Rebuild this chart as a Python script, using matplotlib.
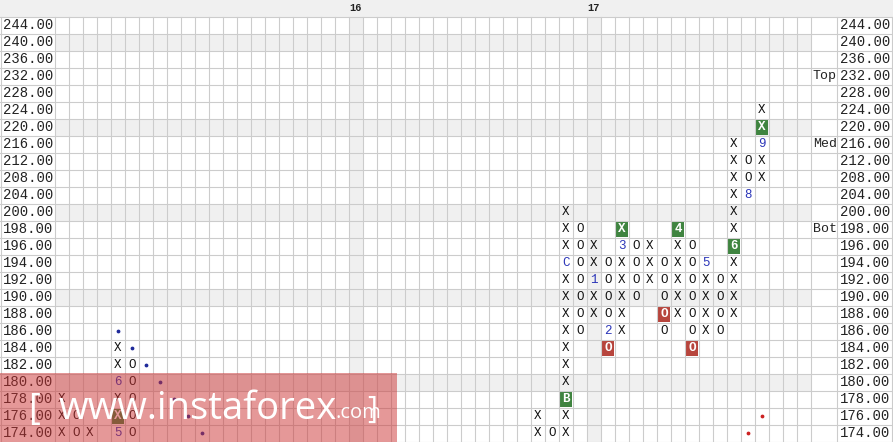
import matplotlib
matplotlib.use('Agg')
import matplotlib.pyplot as plt
from matplotlib.patches import Rectangle

# price rows (top to bottom), box size changes below 200
prices = [244, 240, 236, 232, 228, 224, 220, 216, 212, 208, 204, 200,
          198, 196, 194, 192, 190, 188, 186, 184, 182, 180, 178, 176, 174]
n_cols = 54
week_cols = [21, 38]
week_labels = ['16', '17']

# point & figure columns: (column, X or O, prices in the column)
pf_cols = [
    (0, 'X', [178, 176, 174]),
    (1, 'O', [176, 174]),
    (2, 'X', [174]),
    (4, 'X', [184, 182, 180, 178, 176, 174]),
    (5, 'O', [182, 180, 178, 176, 174]),
    (34, 'X', [176, 174]),
    (35, 'O', [174]),
    (36, 'X', [200, 198, 196, 194, 192, 190, 188, 186, 184, 182, 180, 178, 176, 174]),
    (37, 'O', [198, 196, 194, 192, 190, 188, 186]),
    (38, 'X', [196, 194, 192, 190, 188]),
    (39, 'O', [194, 192, 190, 188, 186, 184]),
    (40, 'X', [198, 196, 194, 192, 190, 188, 186]),
    (41, 'O', [196, 194, 192, 190]),
    (42, 'X', [196, 194, 192]),
    (43, 'O', [194, 192, 190, 188, 186]),
    (44, 'X', [198, 196, 194, 192, 190, 188]),
    (45, 'O', [196, 194, 192, 190, 188, 186, 184]),
    (46, 'X', [194, 192, 190, 188, 186]),
    (47, 'O', [192, 190, 188, 186]),
    (48, 'X', [216, 212, 208, 204, 200, 198, 196, 194, 192, 190, 188]),
    (49, 'O', [212, 208, 204]),
    (50, 'X', [224, 220, 216, 212, 208]),
]

# month markers replacing a box: (column, price, text)
month_marks = [(4, 180, '6'), (4, 174, '5'), (36, 194, 'C'), (38, 192, '1'),
               (39, 186, '2'), (40, 196, '3'), (46, 194, '5'), (49, 204, '8'),
               (50, 216, '9')]
# signal boxes: (column, price, text)
buy_boxes = [(4, 176, 'X'), (36, 178, 'B'), (40, 198, 'X'), (44, 198, '4'),
             (48, 196, '6'), (50, 220, 'X')]
sell_boxes = [(39, 184, 'O'), (43, 188, 'O'), (45, 184, 'O')]

# trend lines
bear_dots_c = [4, 5, 6, 7, 8, 9, 10]
bear_dots_p = [186, 184, 182, 180, 178, 176, 174]
bull_dots_c = [49, 50]
bull_dots_p = [174, 176]

levels = [('Top', 232), ('Med', 216), ('Bot', 198)]

row = {p: i for i, p in enumerate(prices)}
mono = 'Liberation Mono'
grid_c = '#cccccc'
shade_c = '#f0f0f0'

fig = plt.figure(figsize=(8.93, 4.42), dpi=100)
ax = fig.add_axes([0, 0, 1, 1])
x_left = -55 / 14
x_right = 838 / 14
x_lab = (837 - 55) / 14
ax.set_xlim(x_left, x_right)
ax.set_ylim(len(prices) - 0.5, -1.5)
ax.axis('off')

# header band
ax.add_patch(Rectangle((x_left, -1.5), x_right - x_left, 1, color=shade_c, lw=0))
for c, lab in zip(week_cols, week_labels):
    ax.text(c + 0.5, -1.0, lab, ha='center', va='center', fontsize=7.5,
            fontweight='bold', family=mono, color='#222222')

# shaded rows and columns
for p in prices:
    if p % 10 == 0:
        ax.add_patch(Rectangle((0, row[p] - 0.5), n_cols, 1, color=shade_c, lw=0))
for c in week_cols:
    ax.add_patch(Rectangle((c, -0.5), 1, len(prices), color=shade_c, lw=0))

# grid
for i in range(len(prices) + 1):
    ax.plot([x_left, x_right], [i - 0.5, i - 0.5], color=grid_c, lw=0.8)
for c in range(n_cols + 1):
    ax.plot([c, c], [-0.5, len(prices) - 0.5], color=grid_c, lw=0.8)
for xv in [x_lab, x_left + 0.08, x_right - 0.06]:
    ax.plot([xv, xv], [-0.5, len(prices) - 0.5], color=grid_c, lw=0.8)

# price labels on both sides
for p in prices:
    ax.text(-0.15, row[p], '%.2f' % p, ha='right', va='center', fontsize=10,
            family=mono, color='#222222')
    ax.text(x_lab + 0.2, row[p], '%.2f' % p, ha='left', va='center', fontsize=10,
            family=mono, color='#222222')
for lab, p in levels:
    ax.text(n_cols + 0.12, row[p], lab, ha='left', va='center', fontsize=9.5,
            family=mono, color='#222222')

special = {(c, p) for c, p, _ in month_marks + buy_boxes + sell_boxes}

for c, kind, plist in pf_cols:
    for p in plist:
        if (c, p) in special:
            continue
        ax.text(c + 0.5, row[p], kind, ha='center', va='center', fontsize=9,
                family=mono, color='#111111')

for c, p, t in month_marks:
    ax.text(c + 0.5, row[p], t, ha='center', va='center', fontsize=9,
            family=mono, color='#2b35b8')

for boxes, col in [(buy_boxes, '#3f8440'), (sell_boxes, '#b7453d')]:
    for c, p, t in boxes:
        ax.add_patch(Rectangle((c + 0.04, row[p] - 0.46), 0.92, 0.92, color=col, lw=0))
        ax.text(c + 0.5, row[p], t, ha='center', va='center', fontsize=9,
                family=mono, fontweight='bold', color='white')

ax.scatter([c + 0.5 for c in bear_dots_c], [row[p] for p in bear_dots_p],
           s=3, color='#1f2a9a', zorder=5)
ax.scatter([c + 0.5 for c in bull_dots_c], [row[p] for p in bull_dots_p],
           s=3, color='#cc2222', zorder=5)

# watermark
wm = Rectangle((0, 0), 0.445, 0.157, transform=fig.transFigure,
               facecolor=(0.8, 0.2, 0.2), alpha=0.5, lw=0, zorder=10)
fig.patches.append(wm)
fig.text(0.032, 0.072, '[', fontsize=26, color='white', family='Open Sans',
         ha='left', va='center', zorder=11)
fig.text(0.066, 0.075, 'www.instaforex', fontsize=27.5, color='white',
         family='Open Sans', ha='left', va='center', zorder=11)
fig.text(0.376, 0.066, '.com', fontsize=14.5, color='white', family='Open Sans',
         ha='left', va='center', zorder=11)
fig.text(0.411, 0.072, ']', fontsize=22, color='white', family='Open Sans',
         ha='left', va='center', zorder=11)

fig.savefig('out.png', dpi=100)
